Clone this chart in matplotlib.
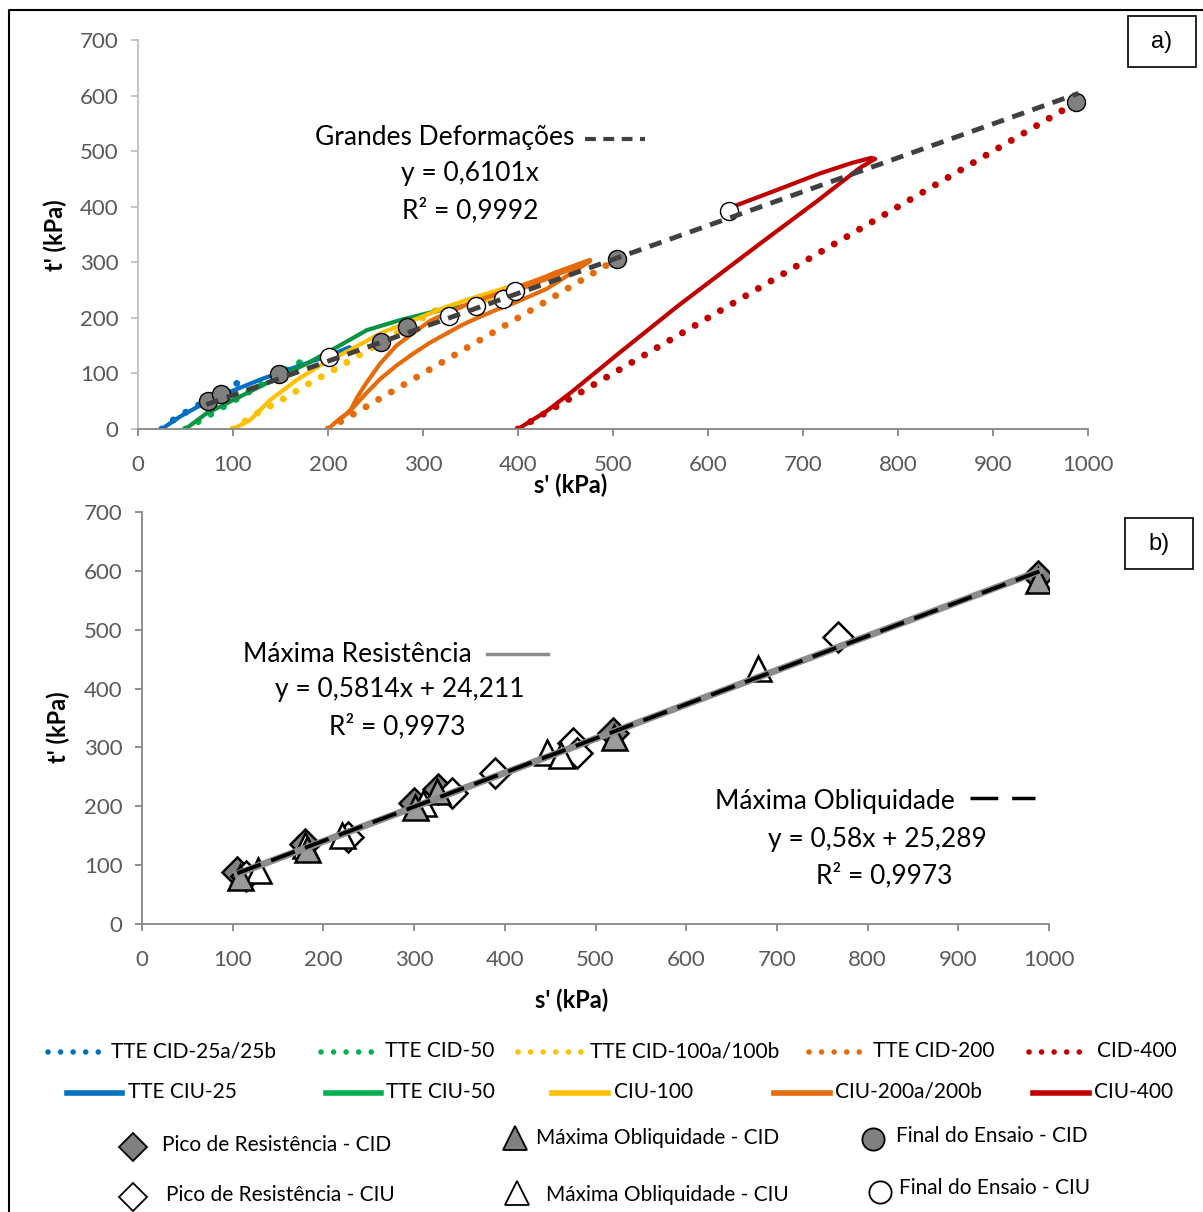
import matplotlib
matplotlib.use('Agg')
import matplotlib.pyplot as plt
from matplotlib.patches import Rectangle
import numpy as np

plt.rcParams['font.family'] = ['Lato', 'DejaVu Sans']

# ---- stress paths, s' and t' in kPa ----
# drained tests (dotted)
cid25_s = [25, 37, 51, 104]
cid25_t = [0, 16, 31, 82]
cid50_s = [50, 90, 140, 178]
cid50_t = [0, 40, 90, 127]
cid100_s = [100, 126, 155, 181, 209, 236, 325]
cid100_t = [0, 29, 56, 83, 109, 136, 225]
cid200_s = [200, 300, 420, 518]
cid200_t = [0, 100, 220, 320]
cid400_s = [400, 481, 600, 750, 870, 990]
cid400_t = [0, 81, 200, 350, 470, 590]

# undrained tests (solid)
ciu25_s = [25, 44, 69, 97, 132, 167, 202, 223, 201]
ciu25_t = [0, 22, 46, 67, 91, 112, 133, 147, 130]
ciu50_s = [50, 72, 107, 142, 178, 210, 241, 276, 311, 342, 327]
ciu50_t = [0, 28, 58, 88, 118, 148, 178, 196, 211, 221, 210]
ciu100_s = [100, 118, 139, 167, 195, 223, 255, 290, 325, 360, 395, 380, 356]
ciu100_t = [0, 16, 52, 88, 118, 142, 172, 196, 220, 240, 258, 245, 221]
ciu200a_s = [200, 212, 222, 230, 240, 255, 272, 290, 307, 325, 342, 360, 378, 395, 430, 476, 430, 397]
ciu200a_t = [0, 18, 30, 45, 64, 90, 114, 136, 155, 172, 188, 202, 215, 226, 252, 302, 270, 248]
ciu200b_s = [216, 224, 231, 240, 255, 272, 290, 307, 325, 342, 360, 378, 410, 476, 440, 384]
ciu200b_t = [22, 35, 58, 82, 118, 150, 173, 194, 209, 221, 233, 243, 262, 304, 282, 236]
ciu400_s = [400, 430, 456, 506, 568, 652, 714, 760, 776, 772, 752, 718, 677, 626]
ciu400_t = [0, 32, 66, 136, 221, 330, 409, 470, 486, 488, 479, 460, 433, 400]

# end-of-test points
end_cid_s = [74, 87, 148, 256, 283, 504, 987]
end_cid_t = [50, 63, 99, 157, 184, 306, 588]
end_ciu_s = [201, 327, 356, 384, 397, 622]
end_ciu_t = [130, 203, 221, 234, 248, 393]

# large strain envelope
slope_gd = 0.6101

# ---- failure points (panel b) ----
peak_cid_s = [105, 180, 300, 326, 519, 988]
peak_cid_t = [89, 136, 206, 229, 324, 592]
obl_cid_s = [108, 182, 301, 325, 520, 988]
obl_cid_t = [80, 128, 199, 226, 318, 584]
peak_ciu_s = [115, 227, 342, 389, 475, 480, 767]
peak_ciu_t = [82, 148, 222, 256, 307, 290, 488]
obl_ciu_s = [128, 180, 220, 310, 446, 462, 679]
obl_ciu_t = [91, 134, 152, 205, 293, 287, 435]

slope_mr, icpt_mr = 0.5814, 24.211
slope_mo, icpt_mo = 0.58, 25.289

BLUE = '#0070C0'
GREEN = '#00B050'
GREEN_D = '#0A9444'
YELLOW = '#FFC000'
ORANGE = '#E46C0A'
RED = '#C00000'
TICK = '#595959'

DOT = dict(lw=5, ls=(0, (0.01, 2.1)), dash_capstyle='round')
SOLID = dict(lw=3, solid_capstyle='round', solid_joinstyle='round')

fig = plt.figure(figsize=(12.03, 12.12), dpi=100)
W, H = 1203, 1212


def style_axes(ax, left_col):
    ax.set_xlim(0, 1000)
    ax.set_ylim(0, 700)
    ax.set_xticks(np.arange(0, 1001, 100))
    ax.set_yticks(np.arange(0, 701, 100))
    for side in ['top', 'right']:
        ax.spines[side].set_visible(False)
    ax.spines['left'].set_color(left_col)
    ax.spines['bottom'].set_color('#868686')
    ax.spines['left'].set_linewidth(1.3)
    ax.spines['bottom'].set_linewidth(1.3)
    ax.tick_params(axis='y', direction='out', length=5, width=1.3, color=left_col,
                   labelcolor=TICK, labelsize=16, pad=9)
    ax.tick_params(axis='x', direction='out', length=5, width=1.3, color='#868686',
                   labelcolor=TICK, labelsize=16, pad=14)


# ---- a) stress paths ----
ax1 = fig.add_axes([138 / W, 1 - 429 / H, 950 / W, 389 / H])
style_axes(ax1, '#BFBFBF')

ax1.plot(cid25_s, cid25_t, color=BLUE, **DOT)
ax1.plot(cid50_s, cid50_t, color=GREEN, **DOT)
ax1.plot(cid100_s, cid100_t, color=YELLOW, **DOT)
ax1.plot(cid200_s, cid200_t, color=ORANGE, **DOT)
ax1.plot(cid400_s, cid400_t, color=RED, **DOT)

ax1.plot(ciu25_s, ciu25_t, color=BLUE, **SOLID)
ax1.plot(ciu50_s, ciu50_t, color=GREEN_D, **SOLID)
ax1.plot(ciu100_s, ciu100_t, color=YELLOW, **SOLID)
ax1.plot(ciu200a_s, ciu200a_t, color=ORANGE, **SOLID)
ax1.plot(ciu200b_s, ciu200b_t, color=ORANGE, **SOLID)
ax1.plot(ciu400_s, ciu400_t, color=RED, **SOLID)

ax1.plot(end_cid_s, end_cid_t, 'o', ms=13, mfc='#808080', mec='black', mew=1, zorder=5)
ax1.plot(end_ciu_s, end_ciu_t, 'o', ms=13, mfc='white', mec='black', mew=1, zorder=5)

gd_s = np.array([72, 990])
ax1.plot(gd_s, slope_gd * gd_s, color='#404040', lw=3.5, ls=(0, (2.6, 1.8)), zorder=6)

# ---- b) failure envelopes ----
ax2 = fig.add_axes([142 / W, 1 - 924 / H, 907 / W, 412 / H])
style_axes(ax2, '#868686')

ax2.plot(peak_cid_s, peak_cid_t, 'D', ms=15, mfc='#808080', mec='black', mew=1.8, ls='none')
ax2.plot(peak_ciu_s, peak_ciu_t, 'D', ms=15, mfc='white', mec='black', mew=1.8, ls='none')
ax2.plot(obl_ciu_s, obl_ciu_t, '^', ms=18, mfc='white', mec='black', mew=1.8, ls='none')
ax2.plot(obl_cid_s, obl_cid_t, '^', ms=18, mfc='#9A9A9A', mec='black', mew=1.8, ls='none')

env_s = np.array([105, 990])
ax2.plot(env_s, slope_mr * env_s + icpt_mr, color='#8C8C8C', lw=5, zorder=6)
ax2.plot(env_s, slope_mo * env_s + icpt_mo, color='black', lw=2.8, ls=(0, (6.5, 2.8)), zorder=7)

# ---- overlay in pixel coordinates: labels, boxes, legend ----
lax = fig.add_axes([0, 0, 1, 1])
lax.set_xlim(0, W)
lax.set_ylim(H, 0)
lax.axis('off')
lax.patch.set_alpha(0)

lax.plot([9, 9, W], [H, 10, 10], color='black', lw=1.5)

lab = dict(fontsize=17, fontweight='bold', color='black', ha='center', va='center')
lax.text(571, 485, "s' (kPa)", **lab)
lax.text(55, 235, "t' (kPa)", rotation=90, **lab)
lax.text(572, 1000, "s' (kPa)", **lab)
lax.text(58, 727, "t' (kPa)", rotation=90, **lab)

for (x0, y0, txt) in [(1128, 16, 'a)'), (1125, 518, 'b)')]:
    lax.add_patch(Rectangle((x0, y0), 68, 51, fc='white', ec='black', lw=1.2))
    lax.text(x0 + 34, y0 + 26, txt, fontsize=17, family='Liberation Sans',
             ha='center', va='center')

ann = dict(fontsize=19, color='black', va='center')
lax.text(315, 138, 'Grandes Deformações', ha='left', **ann)
lax.plot([585, 645], [139, 139], color='#404040', lw=3, ls=(0, (2.6, 1.8)))
lax.text(470, 174, 'y = 0,6101x', ha='center', **ann)
lax.text(470, 210, 'R² = 0,9992', ha='center', **ann)

lax.text(243, 654, 'Máxima Resistência', ha='left', **ann)
lax.plot([487, 548], [654, 654], color='#8C8C8C', lw=2.5)
lax.text(400, 690, 'y = 0,5814x + 24,211', ha='center', **ann)
lax.text(397, 726, 'R² = 0,9973', ha='center', **ann)

lax.text(715, 802, 'Máxima Obliquidade', ha='left', **ann)
lax.plot([970, 1035], [798, 798], color='black', lw=2.5, ls=(0, (8, 4)))
lax.text(877, 839, 'y = 0,58x + 25,289', ha='center', **ann)
lax.text(884, 875, 'R² = 0,9973', ha='center', **ann)

# legend
leg_txt = dict(fontsize=15, color='black', va='center', ha='left')
dotted_rows = [((48, 99), 111, 'TTE CID-25a/25b', BLUE),
               ((321, 372), 385, 'TTE CID-50', GREEN),
               ((518, 582), 590, 'TTE CID-100a/100b', YELLOW),
               ((809, 860), 873, 'TTE CID-200', ORANGE),
               ((1029, 1080), 1097, 'CID-400', RED)]
for (x0, x1), xt, txt, col in dotted_rows:
    lax.plot([x0, x1], [1052, 1052], color=col, lw=4, ls=(0, (0.01, 2.25)), dash_capstyle='round')
    lax.text(xt, 1051, txt, **leg_txt)

solid_rows = [((67, 122), 128, 'TTE CIU-25', BLUE),
              ((326, 381), 386, 'TTE CIU-50', GREEN),
              ((552, 608), 614, 'CIU-100', YELLOW),
              ((774, 830), 835, 'CIU-200a/200b', ORANGE),
              ((1033, 1089), 1094, 'CIU-400', RED)]
for (x0, x1), xt, txt, col in solid_rows:
    lax.plot([x0, x1], [1093, 1093], color=col, lw=4)
    lax.text(xt, 1092, txt, **leg_txt)

marker_rows = [(133, 1147, 'D', '#808080', 162, 1145, 'Pico de Resistência - CID'),
               (515, 1138, '^', '#808080', 536, 1138, 'Máxima Obliquidade - CID'),
               (873, 1139, 'o', '#808080', 896, 1136, 'Final do Ensaio - CID'),
               (133, 1197, 'D', 'white', 166, 1195, 'Pico de Resistência - CIU'),
               (517, 1193, '^', 'white', 546, 1195, 'Máxima Obliquidade - CIU'),
               (880, 1192, 'o', 'white', 899, 1188, 'Final do Ensaio - CIU')]
for xm, ym, mk, fc, xt, yt, txt in marker_rows:
    size = {'D': 14, '^': 17, 'o': 16}[mk]
    lax.plot([xm], [ym], mk, ms=size, mfc=fc, mec='black', mew=1.3)
    lax.text(xt, yt, txt, **leg_txt)

fig.savefig('out.png', dpi=100)
